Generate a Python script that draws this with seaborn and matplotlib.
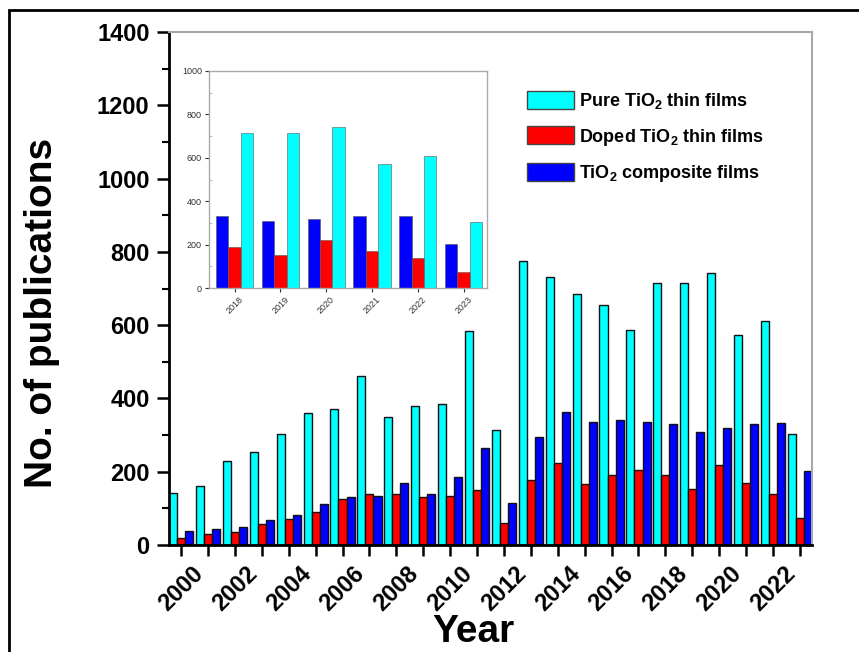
import numpy as np
import pandas as pd
import matplotlib
matplotlib.use("Agg")
import matplotlib.pyplot as plt
from matplotlib.patches import Patch, Rectangle
from matplotlib.ticker import MultipleLocator
import seaborn as sns

# Publication counts per year, 2000-2023
years = list(range(2000, 2024))
pure_tio2 = [141, 161, 228, 254, 303, 359, 372, 460, 348, 379, 386, 583,
             315, 776, 732, 684, 654, 587, 715, 714, 743, 573, 610, 302]
doped_tio2 = [20, 29, 35, 57, 72, 91, 126, 139, 140, 131, 135, 150,
              61, 177, 223, 166, 192, 206, 190, 153, 219, 170, 139, 74]
composite_tio2 = [38, 44, 49, 67, 83, 112, 131, 135, 170, 139, 185, 266,
                  114, 295, 364, 337, 342, 335, 330, 308, 319, 330, 332, 203]

series_names = ["Pure TiO$_2$ thin films",
                "Doped TiO$_2$ thin films",
                "TiO$_2$ composite films"]
series_colors = ["#00FFFF", "#FF0000", "#0000FF"]
inset_years = [2018, 2019, 2020, 2021, 2022, 2023]
x_labels = [str(y) if y % 2 == 0 else "" for y in years]

sns.set_theme(style="white")
plt.rcParams["font.family"] = ["Liberation Sans", "DejaVu Sans"]
plt.rcParams["font.weight"] = "bold"
plt.rcParams["text.color"] = "black"
plt.rcParams["axes.labelcolor"] = "black"
plt.rcParams["xtick.color"] = "black"
plt.rcParams["ytick.color"] = "black"
plt.rcParams["mathtext.fontset"] = "custom"
plt.rcParams["mathtext.rm"] = "Liberation Sans:bold"
plt.rcParams["mathtext.default"] = "rm"

df = pd.DataFrame({
    "Year": [str(y) for y in years] * 3,
    "Count": pure_tio2 + doped_tio2 + composite_tio2,
    "Type": sum([[n] * len(years) for n in series_names], []),
})
palette = dict(zip(series_names, series_colors))

W, H = 859, 652
fig = plt.figure(figsize=(W / 100, H / 100), dpi=100)
ax = fig.add_axes([169 / W, 1 - 545 / H, (812 - 169) / W, (545 - 32) / H])

sns.barplot(data=df, x="Year", y="Count", hue="Type", hue_order=series_names,
            palette=palette, saturation=1, width=0.9, edgecolor="#111111",
            linewidth=1.0, legend=False, ax=ax)

ax.set_xlim(-0.45, len(years) - 0.55)
ax.set_ylim(0, 1400)
ax.yaxis.set_major_locator(MultipleLocator(200))
ax.yaxis.set_minor_locator(MultipleLocator(100))
ax.set_xticks(range(len(years)))
ax.set_xticklabels(x_labels, rotation=45, ha="center", va="top",
                   fontsize=17, fontweight="bold", color="black")
for lbl in ax.get_yticklabels():
    lbl.set_fontsize(17)
    lbl.set_fontweight("bold")
    lbl.set_color("black")
ax.tick_params(axis="y", which="major", direction="out", length=9, width=1.8,
               color="black", pad=5, left=True)
ax.tick_params(axis="y", which="minor", direction="out", length=5, width=1.5,
               color="black", left=True)
ax.tick_params(axis="x", which="major", direction="out", length=8, width=1.8,
               color="black", pad=4, bottom=True)
ax.set_xlabel("")
ax.set_ylabel("")
for side in ("left", "bottom"):
    ax.spines[side].set_color("black")
    ax.spines[side].set_linewidth(2)
for side in ("top", "right"):
    ax.spines[side].set_color("#a8a8a8")
    ax.spines[side].set_linewidth(1.5)

fig.text(42 / W, 1 - 313 / H, "No. of publications", rotation=90,
         fontsize=28, fontweight="bold", ha="center", va="center",
         color="black")
fig.text(473 / W, 1.5 / H, "Year", fontsize=28, fontweight="bold",
         ha="center", va="bottom", color="black")

# Legend
handles = [Patch(facecolor=c, edgecolor="#444444", linewidth=1.0)
           for c in series_colors]
fig.legend(handles, series_names, loc="upper left",
           bbox_to_anchor=(527 / W, 1 - 91 / H), frameon=False,
           prop={"weight": "bold", "size": 13},
           handlelength=2.6, handleheight=1.15, handletextpad=0.3,
           labelspacing=0.85, borderpad=0, borderaxespad=0)

# Inset: the last six years
inset_df = df[df["Year"].isin([str(y) for y in inset_years])]
inset_order = [series_names[2], series_names[1], series_names[0]]
axi = fig.add_axes([209 / W, 1 - 288 / H, (487 - 209) / W, (288 - 71) / H])
sns.barplot(data=inset_df, x="Year", y="Count", hue="Type",
            hue_order=inset_order, palette=palette, saturation=1, width=0.81,
            edgecolor="#555555", linewidth=0.4, legend=False, ax=axi)
axi.set_xlim(-0.56, len(inset_years) - 0.49)
axi.set_ylim(0, 1000)
axi.yaxis.set_major_locator(MultipleLocator(200))
axi.yaxis.set_minor_locator(MultipleLocator(100))
axi.set_xlabel("")
axi.set_ylabel("")
axi.tick_params(axis="both", which="major", labelsize=6.5, colors="#333333",
                length=3, width=0.8, direction="out", left=True, bottom=True,
                pad=2)
axi.tick_params(axis="y", which="minor", length=2, width=0.6,
                color="#aaaaaa", direction="in", left=True)
for lbl in axi.get_xticklabels() + axi.get_yticklabels():
    lbl.set_fontweight("normal")
for lbl in axi.get_xticklabels():
    lbl.set_rotation(45)
    lbl.set_ha("center")
for side in axi.spines.values():
    side.set_color("#aaaaaa")
    side.set_linewidth(1.0)

# Page frame
fig.patches.append(Rectangle((9 / W, -0.2), 1.5, 1 - 10 / H + 0.2,
                             transform=fig.transFigure, fill=False,
                             edgecolor="black", linewidth=2, clip_on=False))

fig.savefig("out.png", dpi=100)
